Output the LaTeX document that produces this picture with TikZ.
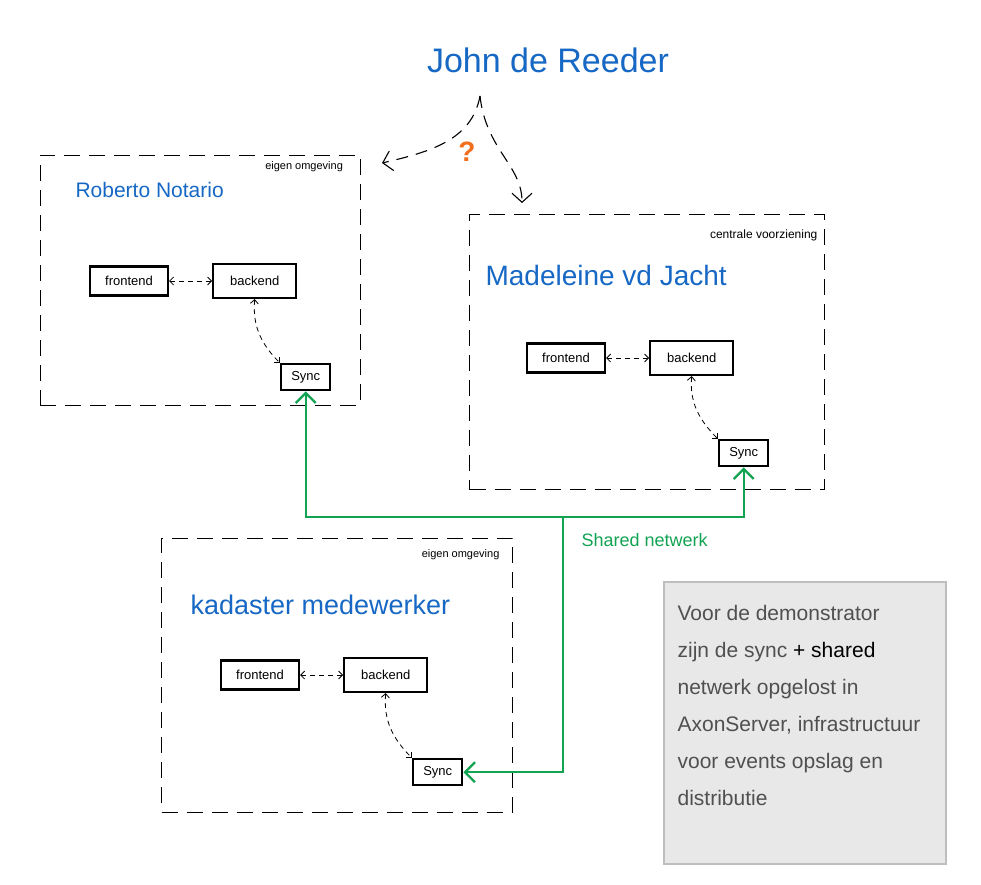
\documentclass[tikz,border=0pt]{standalone}
\usepackage{fontspec}
\setmainfont{Liberation Sans}
\usepackage{xcolor}
\usetikzlibrary{arrows.meta,positioning,calc}

\definecolor{inkblue}{RGB}{22,104,196}
\definecolor{netgreen}{RGB}{18,163,82}
\definecolor{qorange}{RGB}{240,110,30}
\definecolor{notegray}{RGB}{232,232,232}
\definecolor{noteline}{RGB}{190,190,190}
\definecolor{notetext}{RGB}{80,80,80}

\begin{document}
\begin{tikzpicture}[x=1pt, y=-1pt,
  env/.style={draw, line width=0.9pt, dash pattern=on 16pt off 9pt, inner sep=0pt},
  corner/.style={anchor=north east, font=\fontsize{11}{13}\selectfont},
  person/.style={anchor=west, text=inkblue},
  comp/.style={draw, line width=2.2pt, minimum width=78pt, minimum height=29pt,
    inner sep=2pt, font=\fontsize{13}{15}\selectfont},
  back/.style={comp, minimum width=83pt, minimum height=34pt},
  syncbox/.style={comp, minimum width=49pt, minimum height=26pt},
  darr/.style={{Straight Barb[length=4pt,width=8pt]}-{Straight Barb[length=4pt,width=8pt]},
    dash pattern=on 5pt off 4pt, line width=0.8pt},
  forkarr/.style={-{Straight Barb[length=9pt,width=20pt]}, line width=1.1pt,
    dash pattern=on 12pt off 8pt},
  netline/.style={netgreen, line width=2.4pt},
  netarr/.tip={Straight Barb[length=10pt,width=20pt]},
]
\useasboundingbox (0,0) rectangle (981,884);

% wie zoekt waar
\node[text=inkblue, font=\fontsize{34}{40}\selectfont] (john) at (548,60) {John de Reeder};
\coordinate (fork) at (480,96);
\coordinate (toR) at (382,163);
\coordinate (toM) at (522,203);
\draw[forkarr] (fork) .. controls (472,140) and (430,152) .. (toR);
\draw[forkarr] (fork) .. controls (486,150) and (522,165) .. (toM);
\node[text=qorange, font=\fontsize{28}{32}\selectfont\bfseries] (q) at (467,152) {?};

% Roberto
\node[env, minimum width=320pt, minimum height=250pt] (envR) at (200,280) {};
\node[corner] (cR) at ($(envR.north east)+(-14,3)$) {eigen omgeving};
\node[person, font=\fontsize{21}{25}\selectfont] (nR) at (72,190) {Roberto Notario};
\node[comp] (feR) at (129,281) {frontend};
\node[back, right=43pt of feR] (beR) {backend};
\node[syncbox, below=64pt of beR, xshift=51pt] (syR) {Sync};
\draw[darr] (feR) -- (beR);
\draw[darr] (beR.south) to[out=-95, in=135] (syR.north west);

% Madeleine
\node[env, minimum width=355pt, minimum height=275pt] (envM) at (647,352) {};
\node[corner, font=\fontsize{12}{14}\selectfont] (cM) at ($(envM.north east)+(-4,12)$) {centrale voorziening};
\node[person, font=\fontsize{28}{33}\selectfont] (nM) at (482,275) {Madeleine vd Jacht};
\node[comp] (feM) at (566,358) {frontend};
\node[back, right=43pt of feM] (beM) {backend};
\node[syncbox, below=63pt of beM, xshift=52pt] (syM) {Sync};
\draw[darr] (feM) -- (beM);
\draw[darr] (beM.south) to[out=-95, in=135] (syM.north west);

% Kadaster
\node[env, minimum width=351pt, minimum height=274pt] (envK) at (337,675) {};
\node[corner] (cK) at ($(envK.north east)+(-10,8)$) {eigen omgeving};
\node[person, font=\fontsize{27}{32}\selectfont] (nK) at (187,605) {kadaster medewerker};
\node[comp] (feK) at (260,675) {frontend};
\node[back, right=43pt of feK] (beK) {backend};
\node[syncbox, below=65pt of beK, xshift=52pt] (syK) {Sync};
\draw[darr] (feK) -- (beK);
\draw[darr] (beK.south) to[out=-95, in=135] (syK.north west);

% gedeeld netwerk
\coordinate (bus) at (563,517);
\draw[netline, netarr-netarr] (syR.south) |- (bus) -| (syM.south);
\draw[netline, -netarr] (bus) |- (syK.east);
\node[text=netgreen, font=\fontsize{18}{21}\selectfont, anchor=west] (lnet) at (578,540) {Shared netwerk};

% notitie
\node[draw=noteline, line width=1.2pt, fill=notegray, minimum width=282pt,
  minimum height=282pt] (note) at (805,723) {};
\node[anchor=north west, align=left, text=notetext, inner sep=0pt,
  font=\fontsize{21}{37}\selectfont] (notetxt) at ($(note.north west)+(14,24)$)
  {Voor de demonstrator\\
   zijn de sync \textcolor{black}{+ shared}\\
   netwerk opgelost in\\
   AxonServer, infrastructuur\\
   voor events opslag en\\
   distributie};
\end{tikzpicture}
\end{document}
